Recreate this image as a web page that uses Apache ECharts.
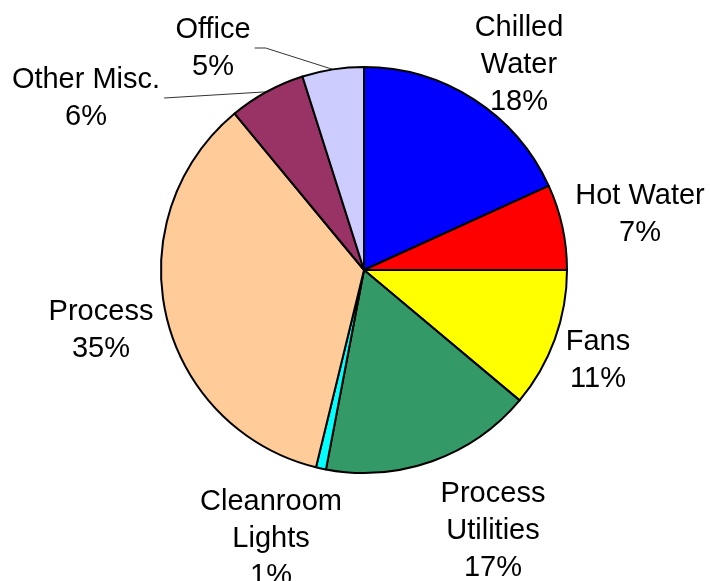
<!DOCTYPE html>
<html>
  <head>
    <meta charset="utf-8">
    <title>Energy use pie</title>
    <script src="https://cdn.jsdelivr.net/npm/echarts@6/dist/echarts.min.js"></script>
    <style>
      html, body { margin: 0; padding: 0; background: #fff; }
      #main { width: 710px; height: 581px; }
    </style>
  </head>
  <body>
    <div id="main"></div>
    <script type="text/javascript">
      // slice names (as wrapped in the picture) and shares, clockwise from 12 o'clock
      var names = ['Chilled\nWater', 'Hot Water', 'Fans', 'Process\nUtilities',
                   'Cleanroom\nLights', 'Process', 'Other Misc.', 'Office'];
      var shares = [18.2, 6.8, 11.1, 16.9, 0.8, 35.2, 6.1, 4.9];
      var colors = ['#0000ff', '#ff0000', '#ffff00', '#339966',
                    '#00ffff', '#ffcc99', '#993366', '#ccccff'];

      // label block centres, and the short elbow of the leader line (null = no line)
      var labelPos = [[519, 65], [640, 214], [598, 360], [493, 531],
                      [271, 539], [101, 330], [86, 98], [213, 48]];
      var leader = [null, null, null, null, null, null, 0, 11];

      var pieData = [];
      for (var i = 0; i < names.length; i++) {
        pieData.push({
          name: names[i],
          value: shares[i],
          itemStyle: { color: colors[i] },
          labelLine: { show: leader[i] !== null }
        });
      }

      var myChart = echarts.init(document.getElementById('main'));
      myChart.setOption({
        animation: false,
        series: [{
          type: 'pie',
          center: [364, 270],
          radius: 203,
          startAngle: 90,
          clockwise: true,
          avoidLabelOverlap: false,
          itemStyle: { borderColor: '#000', borderWidth: 2 },
          label: {
            show: true,
            position: 'outside',
            color: '#000',
            fontFamily: 'Liberation Sans, Arial, sans-serif',
            fontSize: 29,
            lineHeight: 37,
            align: 'center',
            formatter: function (p) {
              return p.name + '\n' + Math.round(p.percent) + '%';
            }
          },
          labelLine: {
            lineStyle: { color: '#333', width: 1 },
            length: 10,
            length2: 10
          },
          labelLayout: function (params) {
            var i = params.dataIndex;
            var p = labelPos[i];
            var res = { x: p[0], y: p[1], align: 'center', verticalAlign: 'middle' };
            if (leader[i] !== null && params.labelLinePoints) {
              var anchor = params.labelLinePoints[0];
              var right = p[0] + params.labelRect.width / 2 + 4;
              res.labelLinePoints = [
                [anchor[0], anchor[1]],
                [right + leader[i], p[1]],
                [right, p[1]]
              ];
            }
            return res;
          },
          data: pieData
        }]
      });
    </script>
  </body>
</html>
